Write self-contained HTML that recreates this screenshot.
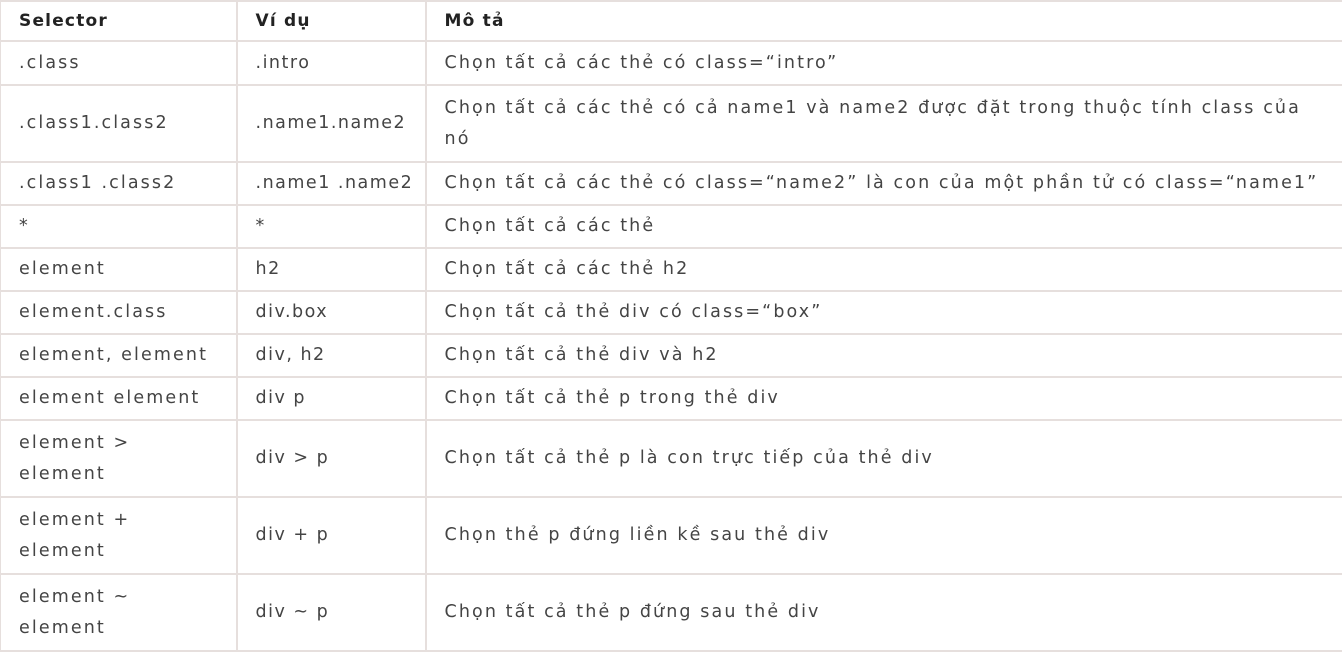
<!DOCTYPE html>
<html><head><meta charset="utf-8"><style>
html,body{margin:0;padding:0;background:#fff;width:1342px;height:655px;overflow:hidden}
table{border-collapse:collapse;position:absolute;left:0;top:0;width:1345px;table-layout:fixed;font-family:"DejaVu Sans","Liberation Sans",sans-serif;font-size:17.5px;color:#444;letter-spacing:2.1px}
td,th{border:2px solid #e6dfdd;padding:0 0 0 18px;text-align:left;line-height:31px;vertical-align:middle;white-space:nowrap;overflow:visible}
th{font-weight:bold;color:#222;height:38px;font-size:17px;letter-spacing:1.2px}
td:nth-child(2){letter-spacing:1.5px}
tr.s td{height:41px}
tr.d td{height:75px}
tr td:first-child,tr th:first-child{border-left:1px solid #e6dfdd}
</style></head><body>
<table>
<colgroup><col style="width:236px"><col style="width:189px"><col></colgroup>
<tr><th>Selector</th><th>Ví dụ</th><th>Mô tả</th></tr>
<tr class="s"><td style="height:42px">.class</td><td>.intro</td><td>Chọn tất cả các thẻ có class=“intro”</td></tr>
<tr class="d"><td>.class1.class2</td><td>.name1.name2</td><td>Chọn tất cả các thẻ có cả name1 và name2 được đặt trong thuộc tính class của<br>nó</td></tr>
<tr class="s"><td>.class1 .class2</td><td>.name1 .name2</td><td>Chọn tất cả các thẻ có class=“name2” là con của một phần tử có class=“name1”</td></tr>
<tr class="s"><td>*</td><td>*</td><td>Chọn tất cả các thẻ</td></tr>
<tr class="s"><td>element</td><td>h2</td><td>Chọn tất cả các thẻ h2</td></tr>
<tr class="s"><td>element.class</td><td>div.box</td><td>Chọn tất cả thẻ div có class=“box”</td></tr>
<tr class="s"><td>element, element</td><td>div, h2</td><td>Chọn tất cả thẻ div và h2</td></tr>
<tr class="s"><td>element element</td><td>div p</td><td>Chọn tất cả thẻ p trong thẻ div</td></tr>
<tr class="d"><td>element &gt;<br>element</td><td>div &gt; p</td><td>Chọn tất cả thẻ p là con trực tiếp của thẻ div</td></tr>
<tr class="d"><td>element +<br>element</td><td>div + p</td><td>Chọn thẻ p đứng liền kề sau thẻ div</td></tr>
<tr class="d"><td>element ~<br>element</td><td>div ~ p</td><td>Chọn tất cả thẻ p đứng sau thẻ div</td></tr>
</table>
</body></html>
